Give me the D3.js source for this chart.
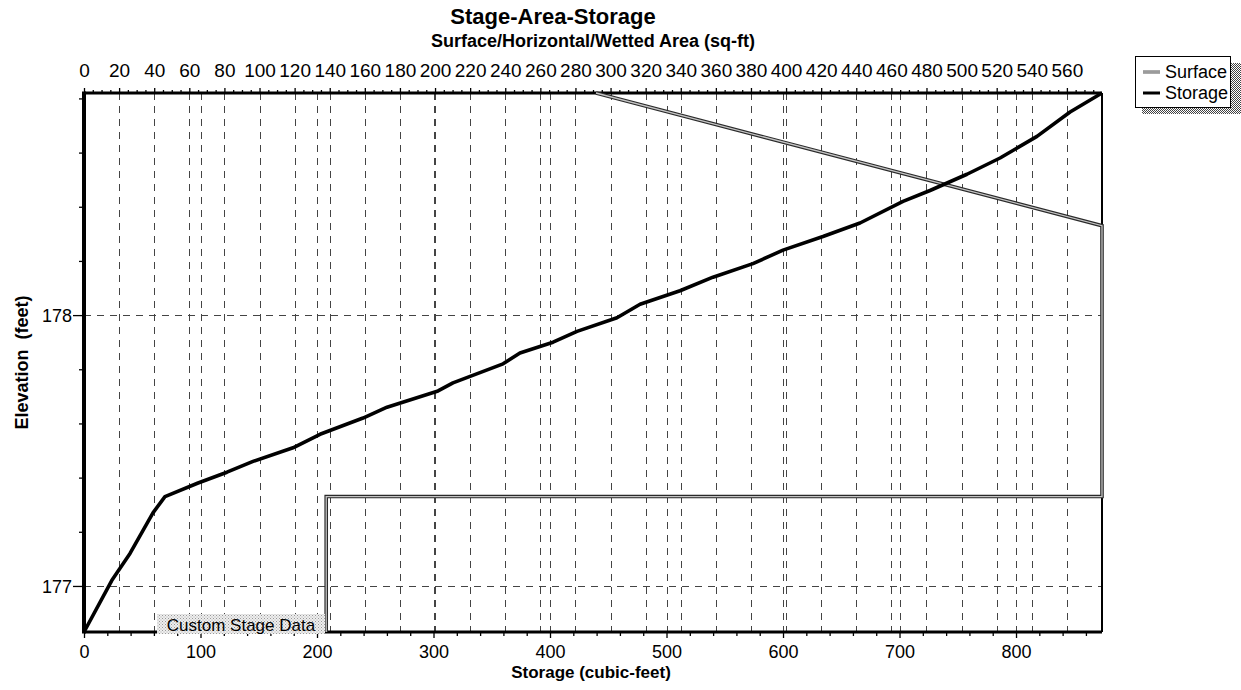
<!DOCTYPE html>
<html>
<head>
<meta charset="utf-8">
<script src="https://cdn.jsdelivr.net/npm/d3@7"></script>
<style>
  html, body { margin: 0; padding: 0; background: #fff; }
  svg { display: block; font-family: "Liberation Sans", Arial, Helvetica, sans-serif; }
  text { fill: #000; }
</style>
</head>
<body>
<svg id="chart" width="1241" height="690"></svg>
<script>
// ---- data ----
const storageValues = [0, 23.8, 39.5, 59.2, 69.5, 97.9, 122.7, 145.1, 179.4, 202.6, 239.5, 260.1, 303.9, 316.7, 359.7, 374.2, 402.6, 423.2, 457.5, 477.3, 511.6, 539.9, 574.2, 600.0, 634.3, 666.1, 703.0, 726.2, 757.9, 786.3, 818.0, 846.4, 873.8];
const storageElevations = [176.83, 177.02, 177.12, 177.27, 177.33, 177.38, 177.42, 177.46, 177.51, 177.56, 177.62, 177.66, 177.72, 177.75, 177.82, 177.86, 177.90, 177.94, 177.99, 178.04, 178.09, 178.14, 178.19, 178.24, 178.29, 178.34, 178.42, 178.46, 178.52, 178.58, 178.66, 178.75, 178.82];
const surfaceAreas = [138, 138, 580, 580, 291.7];
const surfaceElevations = [176.83, 177.33, 177.33, 178.33, 178.82];
const storageTicks = [0, 100, 200, 300, 400, 500, 600, 700, 800];
const areaTicks = d3.range(0, 561, 20);
const elevationTicks = [177, 178];
const elevationMinorTicks = [177.2, 177.4, 177.6, 177.8, 178.2, 178.4, 178.6, 178.8];
const storageMinorTicks = d3.range(0, 874, 20);
const areaMinorTicks = d3.range(0, 581, 5);
const seriesNames = ["Surface", "Storage"];
const chartTitle = "Stage-Area-Storage";
const topTitle = "Surface/Horizontal/Wetted Area (sq-ft)";
const bottomTitle = "Storage (cubic-feet)";
const leftTitle = "Elevation  (feet)";
const noteText = "Custom Stage Data";

// ---- layout ----
const L = 84, R = 1102, T = 93, B = 632;
const svg = d3.select("#chart");

const defs = svg.append("defs");
const pat = defs.append("pattern").attr("id", "halftone").attr("width", 2).attr("height", 2).attr("patternUnits", "userSpaceOnUse");
pat.append("rect").attr("width", 2).attr("height", 2).attr("fill", "#fff");
pat.append("rect").attr("width", 1).attr("height", 1).attr("fill", "#444");
pat.append("rect").attr("x", 1).attr("y", 1).attr("width", 1).attr("height", 1).attr("fill", "#444");
const pat2 = defs.append("pattern").attr("id", "lightdots").attr("width", 3).attr("height", 3).attr("patternUnits", "userSpaceOnUse");
pat2.append("rect").attr("width", 3).attr("height", 3).attr("fill", "#eeeeee");
pat2.append("rect").attr("width", 1).attr("height", 1).attr("fill", "#999");
pat2.append("rect").attr("x", 1.5).attr("y", 1.5).attr("width", 1).attr("height", 1).attr("fill", "#aaa");

const x = d3.scaleLinear().domain([0, 873.8]).range([L, R]);
const xTop = d3.scaleLinear().domain([0, 580]).range([L, R]);
const y = d3.scaleLinear().domain([176.83, 178.82]).range([B, T]);

// ---- grid ----
const grid = svg.append("g").attr("stroke", "#444").attr("stroke-width", 1).attr("stroke-dasharray", "7,6").attr("fill", "none");
areaTicks.filter(d => d > 0).forEach(d => {
  grid.append("line").attr("x1", Math.round(xTop(d)) + 0.5).attr("x2", Math.round(xTop(d)) + 0.5).attr("y1", T).attr("y2", B);
});
storageTicks.filter(d => d > 0).forEach(d => {
  grid.append("line").attr("x1", Math.round(x(d)) + 0.5).attr("x2", Math.round(x(d)) + 0.5).attr("y1", T).attr("y2", B);
});
elevationTicks.forEach(d => {
  grid.append("line").attr("x1", L).attr("x2", R).attr("y1", Math.round(y(d)) + 0.5).attr("y2", Math.round(y(d)) + 0.5);
});

// ---- frame ----
svg.append("line").attr("x1", R).attr("x2", R).attr("y1", T).attr("y2", B).attr("stroke", "#000").attr("stroke-width", 2);

// ---- axes ----
const gB = svg.append("g").attr("transform", `translate(0,${B})`)
  .call(d3.axisBottom(x).tickValues(storageTicks).tickFormat(d3.format("d")).tickSize(6).tickPadding(7));
const gBm = svg.append("g").attr("transform", `translate(0,${B})`)
  .call(d3.axisBottom(x).tickValues(storageMinorTicks.filter(d => d % 100 !== 0)).tickFormat("").tickSize(4));
gBm.select(".domain").remove();
const gT = svg.append("g").attr("transform", `translate(0,${T})`)
  .call(d3.axisTop(xTop).tickValues(areaTicks).tickFormat(d3.format("d")).tickSize(5).tickPadding(11));
const gTm = svg.append("g").attr("transform", `translate(0,${T})`)
  .call(d3.axisTop(xTop).tickValues(areaMinorTicks.filter(d => d % 20 !== 0)).tickFormat("").tickSize(3));
gTm.select(".domain").remove();
const gL = svg.append("g").attr("transform", `translate(${L},0)`)
  .call(d3.axisLeft(y).tickValues(elevationTicks).tickFormat(d3.format("d")).tickSize(11).tickPadding(1));
const gLm = svg.append("g").attr("transform", `translate(${L},0)`)
  .call(d3.axisLeft(y).tickValues(elevationMinorTicks).tickFormat("").tickSize(5));
gLm.select(".domain").remove();

[gB, gT, gL, gBm, gTm, gLm].forEach(g => {
  g.attr("font-family", "'Liberation Sans', Arial, sans-serif");
  g.selectAll("text").attr("font-size", "18px").attr("fill", "#000");
  g.selectAll(".tick line").attr("stroke", "#000").attr("stroke-width", 1.3);
});
gT.selectAll("text").attr("font-size", "19px");
gB.select(".domain").attr("stroke", "#000").attr("stroke-width", 3).attr("d", `M${L},0H${R}`);
gT.select(".domain").attr("stroke", "#000").attr("stroke-width", 3).attr("d", `M${L},0H${R}`);
gL.select(".domain").attr("stroke", "#000").attr("stroke-width", 4).attr("d", `M0,${B + 1.5}V${T - 1.5}`);
gL.selectAll(".tick text").attr("dy", "0.34em");

// ---- series ----
const clip = defs.append("clipPath").attr("id", "plotclip");
clip.append("rect").attr("x", L - 2).attr("y", T - 2).attr("width", R - L + 4).attr("height", B - T + 4);

const surfaceData = surfaceAreas.map((a, i) => ({ a, e: surfaceElevations[i] }));
const surfaceLine = d3.line().x(d => xTop(d.a)).y(d => y(d.e));
const plot = svg.append("g").attr("clip-path", "url(#plotclip)");
plot.append("path").datum(surfaceData).attr("d", surfaceLine).attr("fill", "none")
  .attr("stroke", "#2a2a2a").attr("stroke-width", 3.6).attr("stroke-linejoin", "miter");
plot.append("path").datum(surfaceData).attr("d", surfaceLine).attr("fill", "none")
  .attr("stroke", "#c4c4c4").attr("stroke-width", 1.3).attr("stroke-linejoin", "miter");

const storageData = storageValues.map((s, i) => ({ s, e: storageElevations[i] }));
const storageLine = d3.line().x(d => x(d.s)).y(d => y(d.e));
plot.append("path").datum(storageData).attr("d", storageLine).attr("fill", "none")
  .attr("stroke", "#000").attr("stroke-width", 3.6).attr("stroke-linejoin", "round");

// ---- note label ----
const note = svg.append("g");
note.append("rect").attr("x", 157).attr("y", 614).attr("width", 168).attr("height", 20).attr("fill", "url(#lightdots)");
note.append("text").attr("x", 241).attr("y", 631).attr("text-anchor", "middle").attr("font-size", "17px").text(noteText);

// ---- titles ----
svg.append("text").attr("x", 553).attr("y", 24).attr("text-anchor", "middle").attr("font-size", "22px").attr("font-weight", "bold").text(chartTitle);
svg.append("text").attr("x", 593).attr("y", 47).attr("text-anchor", "middle").attr("font-size", "18px").attr("font-weight", "bold").text(topTitle);
svg.append("text").attr("x", 591).attr("y", 678).attr("text-anchor", "middle").attr("font-size", "17px").attr("font-weight", "bold").text(bottomTitle);
svg.append("text").attr("transform", `translate(28,${(T + B) / 2}) rotate(-90)`).attr("text-anchor", "middle")
  .attr("font-size", "18px").attr("font-weight", "bold").style("white-space", "pre").text(leftTitle);

// ---- legend ----
const lg = svg.append("g");
lg.append("rect").attr("x", 1142).attr("y", 63).attr("width", 99).attr("height", 51).attr("fill", "url(#halftone)");
lg.append("rect").attr("x", 1135.5).attr("y", 56.5).attr("width", 95).attr("height", 51).attr("fill", "#fff").attr("stroke", "#000").attr("stroke-width", 1);
seriesNames.forEach((name, i) => {
  const yy = 72 + i * 21;
  if (name === "Surface") {
    lg.append("line").attr("x1", 1143).attr("x2", 1160).attr("y1", yy).attr("y2", yy).attr("stroke", "#555").attr("stroke-width", 3);
    lg.append("line").attr("x1", 1143).attr("x2", 1160).attr("y1", yy).attr("y2", yy).attr("stroke", "#ccc").attr("stroke-width", 1.2);
  } else {
    lg.append("line").attr("x1", 1143).attr("x2", 1160).attr("y1", yy).attr("y2", yy).attr("stroke", "#000").attr("stroke-width", 3);
  }
  lg.append("text").attr("x", 1165).attr("y", yy + 6).attr("font-size", "18px").text(name);
});
</script>
</body>
</html>
